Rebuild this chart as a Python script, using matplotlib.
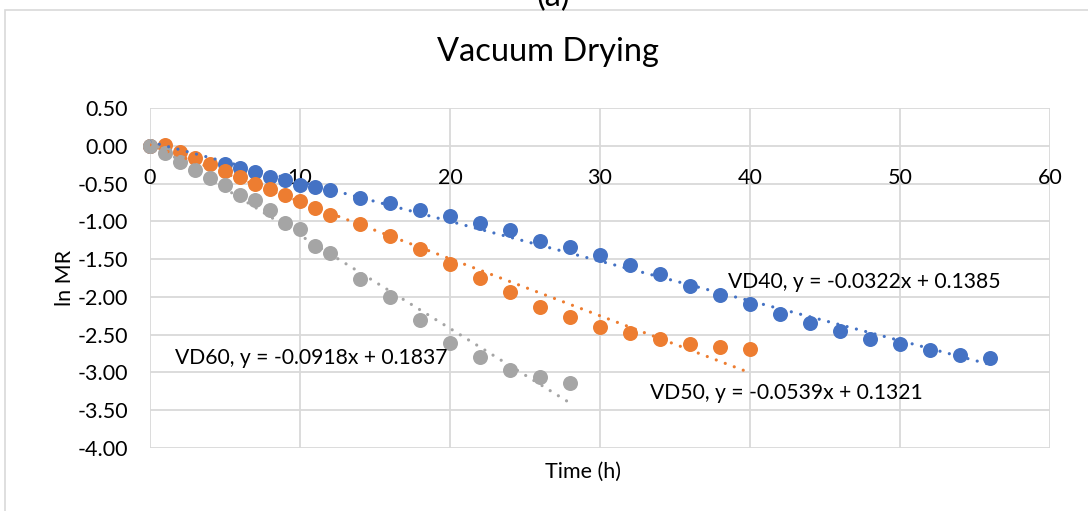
import numpy as np
import matplotlib
matplotlib.use("Agg")
import matplotlib.pyplot as plt
from matplotlib.patches import Rectangle

plt.rcParams['font.family'] = ['Lato', 'DejaVu Sans']

# Drying time (h) and ln MR for each vacuum drying temperature
time_vd40 = [0, 5, 6, 7, 8, 9, 10, 11, 12, 14, 16, 18, 20, 22, 24, 26,
             28, 30, 32, 34, 36, 38, 40, 42, 44, 46, 48, 50, 52, 54, 56]
lnmr_vd40 = [0.00, -0.24, -0.30, -0.35, -0.41, -0.45,
             -0.52, -0.54, -0.58, -0.69, -0.76, -0.85, -0.93, -1.02, -1.12, -1.26,
             -1.34, -1.45, -1.58, -1.70, -1.85, -1.97, -2.09, -2.22, -2.34, -2.45,
             -2.56, -2.62, -2.70, -2.77, -2.81]

time_vd50 = [0, 1, 2, 3, 4, 5, 6, 7, 8, 9, 10, 11, 12, 14, 16, 18, 20, 22, 24, 26,
             28, 30, 32, 34, 36, 38, 40]
lnmr_vd50 = [0.00, 0.01, -0.08, -0.16, -0.24, -0.33, -0.41, -0.50, -0.57, -0.65,
             -0.73, -0.82, -0.91, -1.03, -1.19, -1.37, -1.56, -1.75, -1.94, -2.13,
             -2.27, -2.40, -2.48, -2.56, -2.62, -2.66, -2.69]

time_vd60 = [0, 1, 2, 3, 4, 5, 6, 7, 8, 9, 10, 11, 12, 14, 16, 18, 20, 22, 24, 26, 28]
lnmr_vd60 = [0.00, -0.10, -0.21, -0.32, -0.43, -0.52, -0.65, -0.72, -0.85, -1.02,
             -1.10, -1.32, -1.42, -1.76, -2.00, -2.30, -2.61, -2.80, -2.97, -3.06, -3.14]

series_names = ["VD40", "VD50", "VD60"]
equations = ["VD40, y = -0.0322x + 0.1385",
             "VD50, y = -0.0539x + 0.1321",
             "VD60, y = -0.0918x + 0.1837"]
colors = ["#4472C4", "#ED7D31", "#A5A5A5"]

x_ticks = [0, 10, 20, 30, 40, 50, 60]
y_ticks = [0.5, 0.0, -0.5, -1.0, -1.5, -2.0, -2.5, -3.0, -3.5, -4.0]

W, H = 1088, 511
fig = plt.figure(figsize=(W / 100, H / 100), dpi=100)
fig.patch.set_facecolor("white")

# outer chart frame
fig.add_artist(Rectangle((5 / W, -0.1), 1.2, 1 - 10 / H + 0.1,
                         transform=fig.transFigure, fill=False,
                         edgecolor="#D9D9D9", linewidth=1.2))

ax = fig.add_axes([150 / W, 1 - 448 / H, 900 / W, 340 / H])
ax.set_xlim(0, 60)
ax.set_ylim(-4.0, 0.5)

grid_kw = dict(color="#D9D9D9", linewidth=1.3, zorder=0)
for yv in y_ticks:
    ax.axhline(yv, **grid_kw)
for xv in x_ticks:
    ax.axvline(xv, **grid_kw)

for sp in ax.spines.values():
    sp.set_visible(False)
ax.spines['bottom'].set_position(('data', 0))

ax.set_xticks(x_ticks)
ax.set_xticklabels([str(v) for v in x_ticks])
ax.set_yticks(y_ticks)
ax.set_yticklabels([f"{v:.2f}" for v in y_ticks])
ax.tick_params(axis='both', length=0, labelsize=15.5, colors="black")
ax.tick_params(axis='x', pad=16)
ax.tick_params(axis='y', pad=16)

data = [(time_vd40, lnmr_vd40), (time_vd50, lnmr_vd50), (time_vd60, lnmr_vd60)]
for (t, y), c, name in zip(data, colors, series_names):
    t = np.asarray(t, float)
    y = np.asarray(y, float)
    ax.plot(t, y, 'o', color=c, markersize=10.8, markeredgewidth=0,
            zorder=3, clip_on=False, label=name)
    slope, intercept = np.polyfit(t, y, 1)
    tt = np.array([0.0, t.max()])
    ax.plot(tt, slope * tt + intercept, color=c, linewidth=2.3,
            linestyle=(0, (0.01, 3.0)), dash_capstyle='round', zorder=4)

label_pos = [(38.5, -1.80), (33.3, -3.27), (1.67, -2.81)]
for txt, (lx, ly) in zip(equations, label_pos):
    ax.text(lx, ly, txt, fontsize=15.2, ha='left', va='center', zorder=5)

fig.text(548 / W, 1 - 61 / H, "Vacuum Drying", fontsize=23.5,
         ha='center', va='baseline')
fig.text(553 / W, 1 + 3 / H, "(a)", fontsize=23.5, ha='center', va='center')
fig.text(583 / W, 1 - 472 / H, "Time (h)", fontsize=15.5, ha='center', va='center')
fig.text(65 / W, 1 - 278 / H, "ln MR", fontsize=15.5, ha='center', va='center',
         rotation=90)

fig.savefig("out.png", dpi=100, facecolor="white")
